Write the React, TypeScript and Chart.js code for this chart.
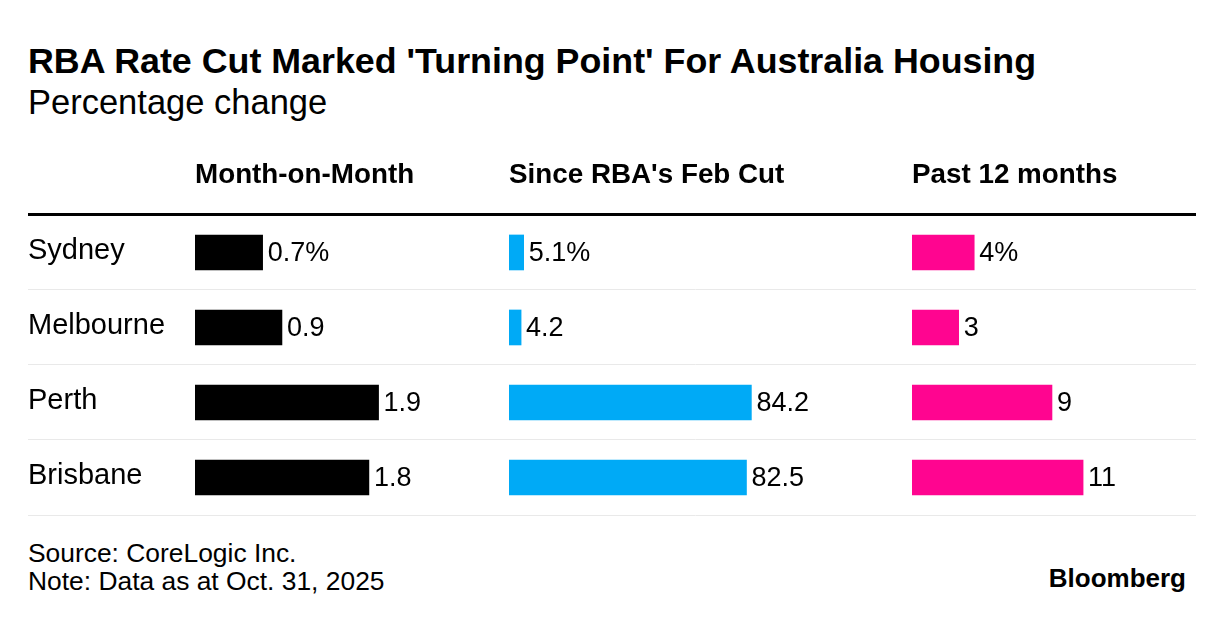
import React, { useEffect, useRef } from "react";
import { Chart, registerables } from "chart.js";

Chart.register(...registerables);

const cities = ["Sydney", "Melbourne", "Perth", "Brisbane"];
const columnTitles = ["Month-on-Month", "Since RBA's Feb Cut", "Past 12 months"];
const monthOnMonth = [0.7, 0.9, 1.9, 1.8];
const sinceFebCut = [5.1, 4.2, 84.2, 82.5];
const past12Months = [4, 3, 9, 11];
const seriesColors = ["#000000", "#00aaf6", "#ff0590"];

const FONT = "'Liberation Sans', Arial, Helvetica, sans-serif";

const valueLabels = {
  id: "valueLabels",
  afterDatasetsDraw(chart: any) {
    const ctx = chart.ctx;
    ctx.save();
    ctx.font = `27px ${FONT}`;
    ctx.fillStyle = "#000";
    ctx.textBaseline = "middle";
    ctx.textAlign = "left";
    chart.data.datasets.forEach((ds: any, di: number) => {
      const meta = chart.getDatasetMeta(di);
      meta.data.forEach((bar: any, i: number) => {
        const v = ds.data[i];
        const txt = String(v) + (i === 0 ? "%" : "");
        ctx.fillText(txt, bar.x + 5, bar.y + 1);
      });
    });
    ctx.restore();
  },
};

function xScale(title: string, max: number, stackWeight: number, weight: number) {
  return {
    type: "linear",
    axis: "x",
    position: "top",
    stack: "columns",
    stackWeight,
    weight,
    min: 0,
    max,
    grid: { display: false, drawTicks: false },
    border: { display: false },
    ticks: { display: false },
    title: {
      display: true,
      text: title,
      align: "start",
      color: "#000",
      font: { family: FONT, size: 27.8, weight: "bold", lineHeight: 1.2 },
      padding: { top: 0, bottom: 23.3 },
    },
  };
}

export default function App() {
  const canvasRef = useRef<HTMLCanvasElement | null>(null);

  useEffect(() => {
    if (!canvasRef.current) return;
    const series = [monthOnMonth, sinceFebCut, past12Months];
    const axisIds = ["x1", "x2", "x3"];
    const chart = new Chart(canvasRef.current, {
      type: "bar",
      data: {
        labels: cities,
        datasets: series.map((d, i) => ({
          label: columnTitles[i],
          data: d,
          xAxisID: axisIds[i],
          yAxisID: "y",
          backgroundColor: seriesColors[i],
          borderWidth: 0,
          barThickness: 35,
          grouped: false,
        })),
      },
      options: {
        indexAxis: "y",
        responsive: true,
        maintainAspectRatio: false,
        animation: false,
        events: [],
        layout: { padding: { top: 18.3, left: 28, right: 28, bottom: 5 } },
        plugins: {
          legend: { display: false },
          tooltip: { enabled: false },
          title: { display: false },
        },
        scales: {
          x1: xScale(columnTitles[0], 3.25, 314, 2),
          x2: xScale(columnTitles[1], 140, 403, 1),
          x3: xScale(columnTitles[2], 18.26, 284, 0),
          y: {
            type: "category",
            position: "left",
            offset: true,
            grid: {
              offset: true,
              drawOnChartArea: true,
              drawTicks: true,
              tickLength: 167,
              color: (c: any) => (c.index === 0 ? "#000000" : "#e9e9e9"),
              lineWidth: (c: any) => (c.index === 0 ? 3 : 1),
            },
            border: { display: false },
            ticks: {
              crossAlign: "far",
              padding: 0,
              labelOffset: -1,
              color: "#000",
              font: { family: FONT, size: 29 },
            },
            afterFit: (s: any) => {
              s.width = 167;
              s.paddingTop = 0;
              s.paddingBottom = 0;
            },
          },
        },
      } as any,
      plugins: [valueLabels],
    });
    return () => chart.destroy();
  }, []);

  return (
    <div
      style={{
        position: "absolute",
        left: 0,
        top: 0,
        width: 1224,
        height: 622,
        background: "#fff",
        overflow: "hidden",
        fontFamily: FONT,
        color: "#000",
      }}
    >
      <div
        style={{
          position: "absolute",
          left: 28,
          top: 40,
          fontSize: 35.8,
          fontWeight: "bold",
          lineHeight: 1.2,
          whiteSpace: "nowrap",
        }}
      >
        RBA Rate Cut Marked 'Turning Point' For Australia Housing
      </div>
      <div
        style={{
          position: "absolute",
          left: 28,
          top: 82,
          fontSize: 34.5,
          lineHeight: 1.2,
          whiteSpace: "nowrap",
        }}
      >
        Percentage change
      </div>
      <div style={{ position: "absolute", left: 0, top: 140, width: 1224, height: 380 }}>
        <canvas ref={canvasRef} />
      </div>
      <div
        style={{
          position: "absolute",
          left: 28,
          top: 539,
          fontSize: 26.4,
          lineHeight: "28px",
          whiteSpace: "nowrap",
        }}
      >
        <div>Source: CoreLogic Inc.</div>
        <div>Note: Data as at Oct. 31, 2025</div>
      </div>
      <div
        style={{
          position: "absolute",
          right: 38,
          top: 562.7,
          fontSize: 26,
          fontWeight: "bold",
          lineHeight: 1.2,
          whiteSpace: "nowrap",
        }}
      >
        Bloomberg
      </div>
    </div>
  );
}
